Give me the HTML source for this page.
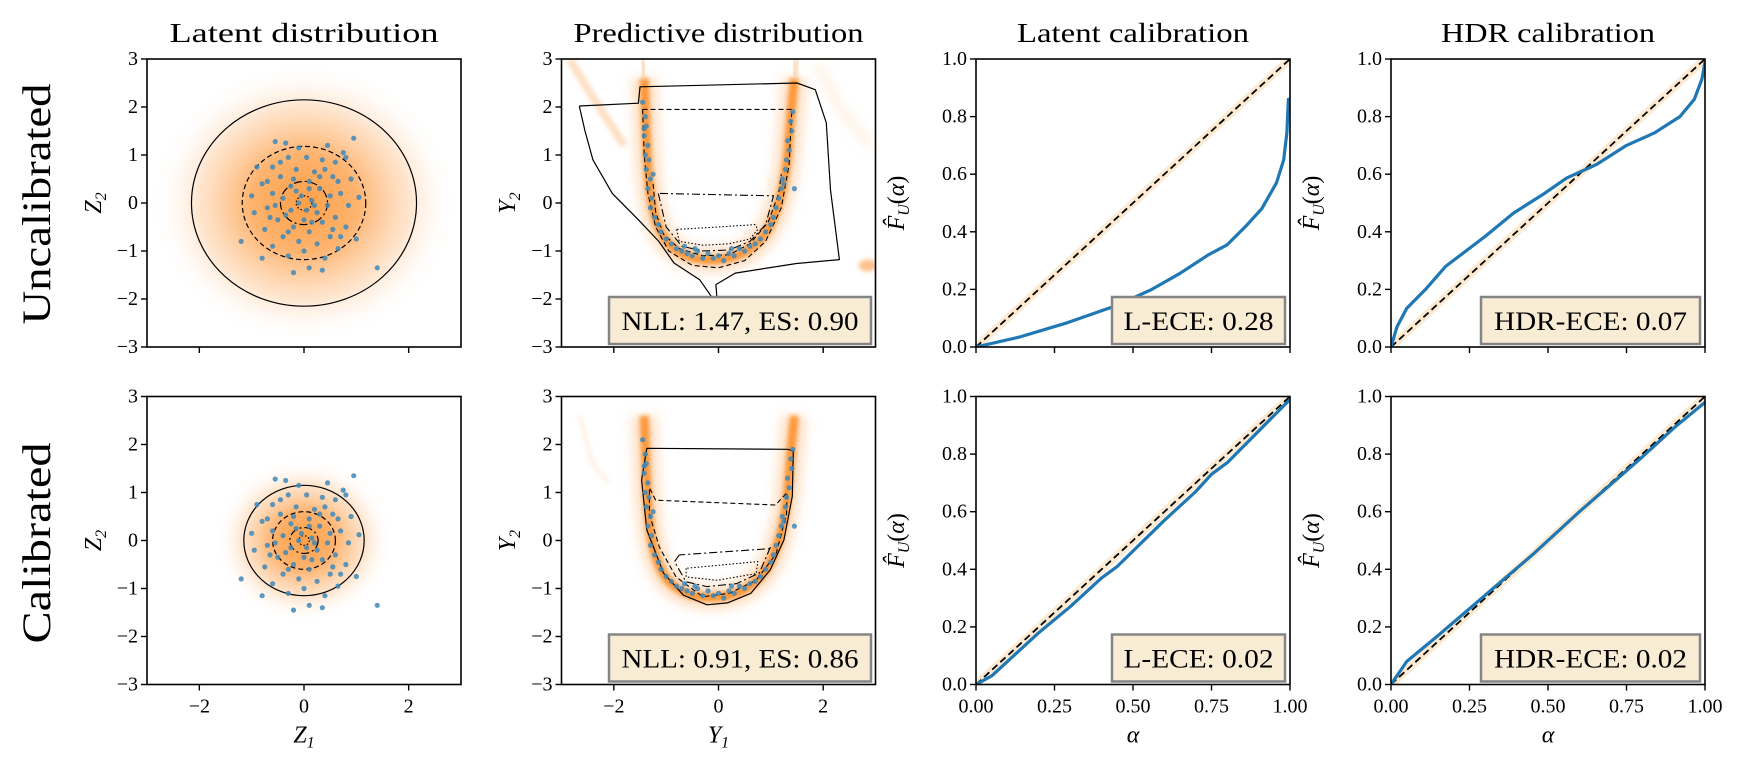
<!DOCTYPE html>
<html><head><meta charset="utf-8"><style>
html,body{margin:0;padding:0;background:#fff;}
svg{display:block;font-family:"Liberation Serif",serif;}
</style></head><body>
<svg id="fig" width="1745" height="780" viewBox="0 0 1745 780" xmlns="http://www.w3.org/2000/svg">
<defs>
<radialGradient id="gradBig"><stop offset="0" stop-color="#fd9a3c" stop-opacity="0.95"/><stop offset="0.35" stop-color="#fda04a" stop-opacity="0.8"/><stop offset="0.7" stop-color="#fdb878" stop-opacity="0.35"/><stop offset="1" stop-color="#fff" stop-opacity="0"/></radialGradient>
<filter id="blur5" x="-50%" y="-50%" width="200%" height="200%"><feGaussianBlur stdDeviation="5"/></filter>
<filter id="blur2" x="-50%" y="-50%" width="200%" height="200%"><feGaussianBlur stdDeviation="2"/></filter>
</defs>
<g id="root"></g>
</svg>
<script>
// ---- data ----
const calibAlphaLatentUncal = [0,0.14,0.29,0.45,0.56,0.65,0.74,0.80,0.86,0.91,0.957,0.98,0.99,0.995,1.0];
const calibFLatentUncal     = [0,0.035,0.084,0.145,0.20,0.256,0.32,0.355,0.42,0.48,0.57,0.65,0.745,0.86,0.86];
const calibAlphaHdrUncal = [0,0.019,0.05,0.11,0.174,0.30,0.39,0.484,0.56,0.655,0.75,0.84,0.92,0.966,0.99,1.0];
const calibFHdrUncal     = [0,0.07,0.134,0.20,0.28,0.384,0.465,0.53,0.587,0.634,0.70,0.744,0.80,0.86,0.93,0.99];
const calibAlphaLatentCal = [0,0.05,0.2,0.3,0.4,0.45,0.6,0.7,0.75,0.8,0.9,1.0];
const calibFLatentCal     = [0,0.03,0.18,0.27,0.37,0.41,0.57,0.67,0.73,0.77,0.88,0.99];
const calibAlphaHdrCal = [0,0.05,0.15,0.3,0.45,0.6,0.8,0.9,1.0];
const calibFHdrCal     = [0,0.08,0.17,0.31,0.45,0.60,0.79,0.89,0.98];
const scoreLabels = ["NLL: 1.47, ES: 0.90","L-ECE: 0.28","HDR-ECE: 0.07","NLL: 0.91, ES: 0.86","L-ECE: 0.02","HDR-ECE: 0.02"];
const latentX = [-0.55,-0.35,0.95,-0.1,0.45,0.75,0.8,-0.3,0.05,0.35,0.6,-0.6,-0.15,0.2,0.55,0.9,-0.45,-0.8,0.1,-0.25,0.3,-0.6,0.7,-1.0,1.05,-0.4,0.15,-0.1,0.45,-0.7,0.85,-0.25,0.25,-0.95,0.6,-0.5,0.0,0.35,-0.2,0.8,-0.75,0.1,-0.4,0.5,-0.1,0.25,-0.6,0.65,0.0,-0.3,0.4,-0.8,0.1,-0.2,0.35,1.0,-1.2,1.4,-0.9,0.5,-0.15,0.2,-0.05,0.05,-0.35,0.3,-0.55,0.65,-0.7,0.15,-0.45,0.55,-0.2,0.1,0.4,-0.65,0.7,-0.3];
const latentY = [1.28,1.25,1.35,1.15,1.2,1.05,0.95,0.95,0.95,0.9,0.85,0.75,0.7,0.65,0.55,0.5,0.55,0.4,0.45,0.35,0.3,0.2,0.2,0.15,0.12,0.1,0.05,0.0,-0.05,-0.1,-0.05,-0.15,-0.2,-0.2,-0.3,-0.35,-0.35,-0.4,-0.5,-0.5,-0.55,-0.6,-0.7,-0.7,-0.8,-0.85,-0.9,-0.95,-1.0,-1.1,-1.15,-1.15,-1.35,-1.45,-1.4,-0.75,-0.8,-1.35,0.75,0.15,0.25,-0.05,0.15,-0.15,-0.25,0.55,-0.05,0.45,0.45,-0.4,0.85,-0.55,0.5,0.3,0.7,-0.3,-0.7,-0.6];
const predX = [-1.45,-1.4,-1.38,-1.42,-1.35,-1.4,-1.33,-1.38,-1.3,-1.35,-1.28,-1.3,-1.22,-1.15,-1.1,-1.0,-0.9,-0.8,-0.7,-0.6,-0.5,-0.4,-0.3,-0.2,-0.1,0.0,0.1,0.2,0.3,0.4,0.5,0.6,0.7,0.8,0.9,1.0,1.05,1.1,1.15,1.2,1.22,1.28,1.3,1.35,1.32,1.4,1.38,1.42,-1.25,-1.42,1.25,-0.45,0.25,-0.65,1.45];
const predY = [2.1,1.8,1.6,1.4,1.2,1.0,0.9,0.7,0.5,0.3,0.1,-0.1,-0.3,-0.45,-0.6,-0.75,-0.85,-0.95,-1.0,-1.05,-1.1,-1.0,-1.15,-1.05,-1.15,-1.1,-1.2,-1.05,-1.1,-0.95,-1.0,-0.9,-0.85,-0.75,-0.6,-0.45,-0.3,-0.1,0.1,0.3,0.5,0.7,0.9,1.1,1.3,1.5,1.7,1.9,0.6,1.55,0.4,-0.95,-0.95,-0.9,0.3];
const latentRadiiUncal = [2.15,1.18,0.45,0.15];
const latentRadiiCal = [1.15,0.6,0.27,0.1];
const xTicksLatent = [-2,0,2];
const yTicksLatent = [-3,-2,-1,0,1,2,3];
const xTicksCalib = [0,0.25,0.5,0.75,1];
const xTickLabelsCalib = ["0.00","0.25","0.50","0.75","1.00"];
const yTicksCalib = [0,0.2,0.4,0.6,0.8,1.0];
const yTickLabelsCalib = ["0.0","0.2","0.4","0.6","0.8","1.0"];
const uncalSolidX=[-2.66,-2.55,-2.4,-2.03,-1.53,-1.14,-0.85,-0.36,-0.02,-0.05,0.32,1.49,2.31,2.14,2.06,1.85,1.5,-1.5,-1.53,-2.66];
const uncalSolidY=[2.02,1.5,0.9,0.2,-0.35,-0.8,-1.25,-1.6,-2.13,-1.7,-1.46,-1.26,-1.18,0.27,1.67,2.36,2.5,2.42,2.08,2.02];
const uncalDashX=[-1.45,-1.42,-1.35,-1.2,-0.95,-0.5,0,0.5,0.9,1.2,1.35,1.4,-1.45];
const uncalDashY=[1.95,1.0,0.2,-0.5,-1.0,-1.3,-1.35,-1.2,-0.8,-0.1,0.8,1.95,1.95];
const uncalDashInX=[-1.25,-1.2,-1.05,-0.75,-0.3,0.2,0.6,0.95,1.15,1.2];
const uncalDashInY=[0.4,-0.2,-0.65,-0.95,-1.1,-1.08,-0.85,-0.4,0.2,0.6];
const uncalDashDotX=[-1.15,-1.0,-0.7,-0.3,0.2,0.6,0.9,1.05,1.0,-1.15];
const uncalDashDotY=[0.2,-0.5,-0.9,-1.0,-0.98,-0.8,-0.45,0.15,0.15,0.2];
const uncalDotX=[-0.8,-0.75,-0.3,0.2,0.6,0.75,0.7,0.0,-0.8];
const uncalDotY=[-0.55,-0.8,-0.88,-0.85,-0.75,-0.55,-0.45,-0.5,-0.55];
const calSolidX=[-1.37,-1.47,-1.37,-1.05,-0.67,-0.22,0.17,0.62,0.99,1.25,1.41,1.43,1.33,-1.37];
const calSolidY=[1.92,1.26,0.22,-0.68,-1.14,-1.34,-1.30,-1.1,-0.61,0.01,0.92,1.86,1.9,1.92];
const calDashX=[-1.2,-1.32,-1.32,-1.13,-0.81,-0.3,0.21,0.72,1.1,1.3,1.31,1.09,-1.2];
const calDashY=[0.84,1.1,0.55,-0.14,-0.76,-1.17,-1.1,-0.83,-0.28,0.55,1.0,0.74,0.84];
const calDashDotX=[-0.75,-0.84,-0.62,-0.22,0.34,0.78,1.0,0.97,-0.75];
const calDashDotY=[-0.3,-0.44,-0.86,-0.96,-0.9,-0.68,-0.12,-0.17,-0.3];
const calDotX=[-0.62,-0.62,-0.03,0.72,0.75,-0.62];
const calDotY=[-0.58,-0.76,-0.83,-0.69,-0.44,-0.58];
const ridgeX=[-1.42,-1.4,-1.36,-1.3,-1.18,-0.95,-0.55,0,0.5,0.9,1.15,1.3,1.38,1.45];
const ridgeY=[2.6,2.0,1.0,0.2,-0.4,-0.85,-1.12,-1.18,-1.02,-0.62,0.0,0.8,1.8,2.6];

// ---- layout ----
const NS="http://www.w3.org/2000/svg";
const root=document.getElementById('root');
const LEFTS=[147,561.5,976,1391], TOPS=[59,396.5], W=314, H=288;
function el(tag,attrs,parent){const e=document.createElementNS(NS,tag);for(const k in attrs)e.setAttribute(k,attrs[k]);(parent||root).appendChild(e);return e;}
function txt(s,attrs,parent){const t=el('text',attrs,parent);t.textContent=s;return t;}
function scaler(col,row,xmin,xmax,ymin,ymax){const L=LEFTS[col],T=TOPS[row];return{x:v=>L+(v-xmin)/(xmax-xmin)*W,y:v=>T+H-(v-ymin)/(ymax-ymin)*H,L,T};}
function pathD(sx,xs,ys,close){let d='';for(let i=0;i<xs.length;i++)d+=(i?'L':'M')+sx.x(xs[i]).toFixed(1)+' '+sx.y(ys[i]).toFixed(1);return d+(close?'Z':'');}
function smoothD(sx,xs,ys){let p=xs.map((v,i)=>[sx.x(v),sx.y(ys[i])]);let d='M'+p[0][0]+' '+p[0][1];for(let i=0;i<p.length-1;i++){const p0=p[Math.max(0,i-1)],p1=p[i],p2=p[i+1],p3=p[Math.min(p.length-1,i+2)];d+=`C${p1[0]+(p2[0]-p0[0])/6} ${p1[1]+(p2[1]-p0[1])/6},${p2[0]-(p3[0]-p1[0])/6} ${p2[1]-(p3[1]-p1[1])/6},${p2[0]} ${p2[1]}`;}return d;}

const titles=["Latent distribution","Predictive distribution","Latent calibration","HDR calibration"];
const titleW=[269,290,232,214];
titles.forEach((t,i)=>{const e=txt(t,{x:LEFTS[i]+W/2,y:42,'text-anchor':'middle','font-size':27,textLength:titleW[i],lengthAdjust:'spacingAndGlyphs'});

});
[["Uncalibrated",204,241],["Calibrated",543,201]].forEach(([s,cy,len],i)=>{const e=txt(s,{x:0,y:0,transform:`translate(50,${cy}) rotate(-90)`,'text-anchor':'middle','font-size':40,textLength:len,lengthAdjust:'spacingAndGlyphs'});

});

function clipFor(col,row){const id=`clip${col}${row}`;const c=el('clipPath',{id});el('rect',{x:LEFTS[col],y:TOPS[row],width:W,height:H},c);return `url(#${id})`;}

function axes(col,row,sx,xt,xtl,yt,ytl,showX,ylab,xlab){
  const g=el('g',{});
  
  
  el('rect',{x:sx.L,y:sx.T,width:W,height:H,fill:'none',stroke:'#000','stroke-width':1.6},g);
  xt.forEach((v,i)=>{const x=sx.x(v);el('line',{x1:x,x2:x,y1:sx.T+H,y2:sx.T+H+6,stroke:'#000','stroke-width':1.4},g);
    if(showX){const t=txt(xtl[i],{x:x,y:sx.T+H+28,'text-anchor':'middle','font-size':20},g);
      
      }});
  yt.forEach((v,i)=>{const y=sx.y(v);el('line',{x1:sx.L-6,x2:sx.L,y1:y,y2:y,stroke:'#000','stroke-width':1.4},g);
    const t=txt(ytl[i],{x:sx.L-9,y:y+6,'text-anchor':'end','font-size':20},g);
    
    });
  const yl=el('text',{transform:`translate(${ylab.x},${sx.T+H/2}) rotate(-90)`,'text-anchor':'middle','font-size':24,'font-style':'italic'},g);
  yl.innerHTML=ylab.html;
  
  
  if(xlab){const xl=el('text',{x:sx.L+W/2,y:sx.T+H+58,'text-anchor':'middle','font-size':24,'font-style':'italic'},g);xl.innerHTML=xlab;
    
    }
}
function scoreBox(sx,s,x0,x1,tw){const g=el('g',{});
  
  
  el('rect',{x:x0,y:sx.T+H-50,width:x1-x0,height:47,fill:'#f9ecd5',stroke:'#858585','stroke-width':2.5},g);
  txt(s,{x:(x0+x1)/2,y:sx.T+H-17,'text-anchor':'middle','font-size':26,textLength:tw,lengthAdjust:'spacingAndGlyphs'},g);}

[[0,latentRadiiUncal,2.9],[1,latentRadiiCal,1.7]].forEach(([row,radii,gr])=>{
  const sx=scaler(0,row,-3,3,-3,3);
  const g=el('g',{'clip-path':clipFor(0,row)});
  
  
  el('ellipse',{cx:sx.x(0),cy:sx.y(0),rx:sx.x(gr)-sx.x(0),ry:sx.y(0)-sx.y(gr),fill:'url(#gradBig)'},g);
  const dashes=['none','5 3','8 3 2 3','1.5 2'];
  radii.forEach((r,i)=>{const c=el('ellipse',{cx:sx.x(0),cy:sx.y(0),rx:sx.x(r)-sx.x(0),ry:sx.y(0)-sx.y(r),fill:'none',stroke:'#000','stroke-width':1.2,'stroke-dasharray':dashes[i]},g);
    
    });
  latentX.forEach((v,i)=>{const p=el('circle',{cx:sx.x(v),cy:sx.y(latentY[i]),r:2.6,fill:'#3f88b8','fill-opacity':0.85},g);
    
    });
  axes(0,row,sx,xTicksLatent,["\u22122","0","2"],yTicksLatent,yTicksLatent.map(v=>v<0?'\u2212'+(-v):''+v),row===1,{x:101,html:'Z<tspan font-size="16" dy="5">2</tspan>'},row===1?'Z<tspan font-size="16" dy="5">1</tspan>':null);
});

[[0,[uncalSolidX,uncalSolidY,uncalDashX,uncalDashY,uncalDashInX,uncalDashInY,uncalDashDotX,uncalDashDotY,uncalDotX,uncalDotY]],[1,[calSolidX,calSolidY,calDashX,calDashY,null,null,calDashDotX,calDashDotY,calDotX,calDotY]]].forEach(([row,c])=>{
  const sx=scaler(1,row,-3,3,-3,3);
  const g=el('g',{'clip-path':clipFor(1,row)});
  
  
  const rd=smoothD(sx,ridgeX,ridgeY);
  el('path',{d:rd,fill:'none',stroke:'#fdbf88','stroke-width':26,'stroke-opacity':0.45,filter:'url(#blur5)'},g);
  el('path',{d:rd,fill:'none',stroke:'#fb8a22','stroke-width':9,'stroke-opacity':0.85,filter:'url(#blur2)'},g);
  if(row===0){
    el('path',{d:pathD(sx,[-2.85,-2.4,-1.8],[3,2.2,1.2]),fill:'none',stroke:'#fcc08c','stroke-width':8,'stroke-opacity':0.5,filter:'url(#blur2)'},g);
    el('path',{d:pathD(sx,[-1.42,-1.45],[2.6,3]),fill:'none',stroke:'#fdc89a','stroke-width':8,'stroke-opacity':0.6,filter:'url(#blur2)'},g);
    el('path',{d:pathD(sx,[1.45,1.5],[2.6,3]),fill:'none',stroke:'#fdc89a','stroke-width':8,'stroke-opacity':0.6,filter:'url(#blur2)'},g);
    el('path',{d:pathD(sx,[-0.05,-0.05],[-1.3,-3]),fill:'none',stroke:'#fcc08c','stroke-width':5,'stroke-opacity':0.5,filter:'url(#blur2)'},g);
    el('ellipse',{cx:sx.x(2.85),cy:sx.y(-1.3),rx:9,ry:6,fill:'#fca55a','fill-opacity':0.7,filter:'url(#blur2)'},g);
    el('path',{d:pathD(sx,[1.9,2.3,2.9],[2.9,2.0,1.2]),fill:'none',stroke:'#fdd8b5','stroke-width':8,'stroke-opacity':0.4,filter:'url(#blur5)'},g);
  } else {
    el('path',{d:pathD(sx,[-0.05,-0.05],[-1.3,-2.1]),fill:'none',stroke:'#fb9a40','stroke-width':5,'stroke-opacity':0.6,filter:'url(#blur2)'},g);
    el('path',{d:pathD(sx,[-2.65,-2.4,-2.1],[2.6,1.6,1.2]),fill:'none',stroke:'#fde2c8','stroke-width':4,'stroke-opacity':0.5,filter:'url(#blur2)'},g);
  }
  const styles=[['none',1.2],['5 3',1.1],['5 3',1.1],['8 3 2 3',1.1],['1.5 2',1.1]];
  for(let k=0;k<5;k++){const xs=c[2*k],ys=c[2*k+1];if(!xs)continue;
    const p=el('path',{d:pathD(sx,xs,ys,false),fill:'none',stroke:'#000','stroke-width':styles[k][1],'stroke-dasharray':styles[k][0],'stroke-linejoin':'round'},g);
    
    }
  predX.forEach((v,i)=>{const p=el('circle',{cx:sx.x(v),cy:sx.y(predY[i]),r:2.6,fill:'#3f88b8','fill-opacity':0.85},g);
    
    });
  axes(1,row,sx,xTicksLatent,["\u22122","0","2"],yTicksLatent,yTicksLatent.map(v=>v<0?'\u2212'+(-v):''+v),row===1,{x:515,html:'Y<tspan font-size="16" dy="5">2</tspan>'},row===1?'Y<tspan font-size="16" dy="5">1</tspan>':null);
  scoreBox(sx,scoreLabels[row*3],609,871,237);
});

const calib=[[2,0,calibAlphaLatentUncal,calibFLatentUncal,1],[3,0,calibAlphaHdrUncal,calibFHdrUncal,2],[2,1,calibAlphaLatentCal,calibFLatentCal,4],[3,1,calibAlphaHdrCal,calibFHdrCal,5]];
calib.forEach(([col,row,ax,fy,si])=>{
  const sx=scaler(col,row,0,1,0,1);
  const g=el('g',{'clip-path':clipFor(col,row)});
  
  
  el('line',{x1:sx.x(0),y1:sx.y(0),x2:sx.x(1),y2:sx.y(1),stroke:'#fcebd2','stroke-width':8},g);
  const dl=el('line',{x1:sx.x(0),y1:sx.y(0),x2:sx.x(1),y2:sx.y(1),stroke:'#000','stroke-width':1.8,'stroke-dasharray':'7 4'},g);
  
  
  const cl=el('path',{d:pathD(sx,ax,fy),fill:'none',stroke:'#1f77b4','stroke-width':3.2,'stroke-linejoin':'round'},g);
  
  
  const ylx=col===2?904:1319;
  axes(col,row,sx,xTicksCalib,xTickLabelsCalib,yTicksCalib,yTickLabelsCalib,row===1,{x:ylx,html:'F\u0302<tspan font-size="16" dy="5">U</tspan><tspan dy="-5" font-style="normal">(</tspan>\u03b1<tspan font-style="normal">)</tspan>'},row===1?'\u03b1':null);
  const x0=col===2?1112:1481,x1=col===2?1285:1700,tw=col===2?150:193;
  scoreBox(sx,scoreLabels[si],x0,x1,tw);
});
</script>
</body></html>
